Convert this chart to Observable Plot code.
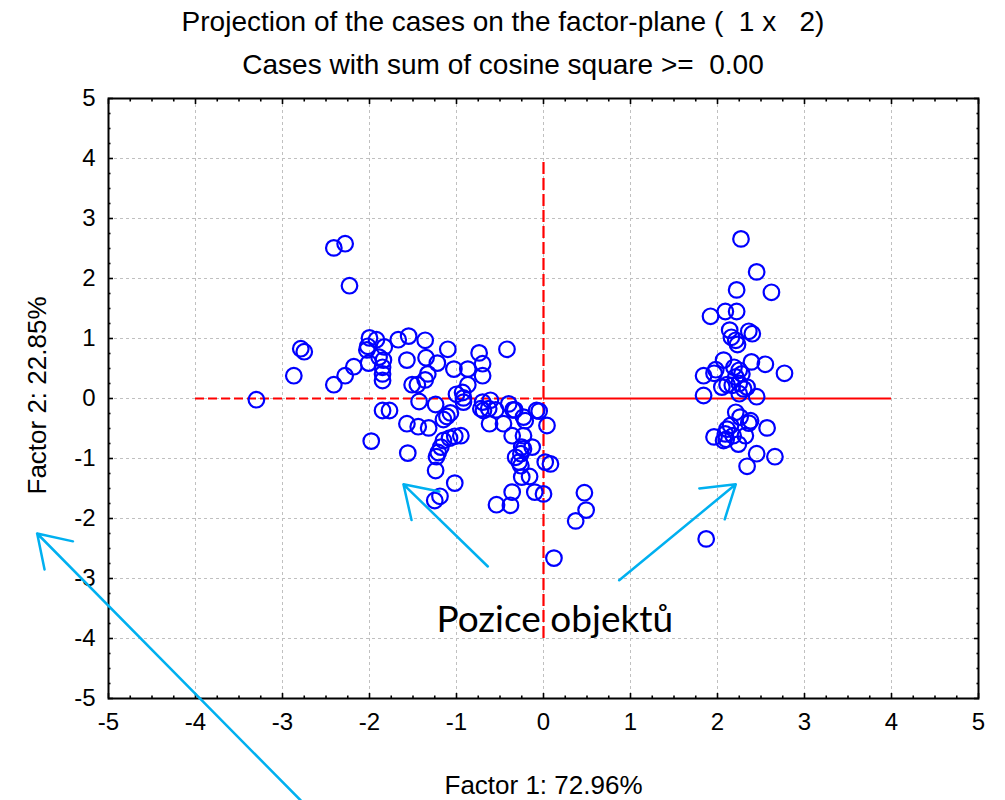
<!DOCTYPE html>
<html>
<head>
<meta charset="utf-8">
<script src="https://cdn.jsdelivr.net/npm/d3@7"></script>
<script src="https://cdn.jsdelivr.net/npm/@observablehq/plot@0.6"></script>
<style>
  html, body { margin: 0; padding: 0; background: #fff; }
  svg text { white-space: pre; }
</style>
</head>
<body>
<div id="chart"></div>
<script>
// ---- Data ----
const titleText = "Projection of the cases on the factor-plane (  1 x   2)";
const subtitleText = "Cases with sum of cosine square >=  0.00";
const xLabel = "Factor 1: 72.96%";
const yLabel = "Factor 2: 22.85%";
const annotationText = "Pozice objektů";

const xTicks = [-5, -4, -3, -2, -1, 0, 1, 2, 3, 4, 5];
const yTicks = [-5, -4, -3, -2, -1, 0, 1, 2, 3, 4, 5];
const gridTicks = [-4, -3, -2, -1, 0, 1, 2, 3, 4];

// Factor 1 / Factor 2 coordinates of the cases
const factor1 = [
  -3.30, -2.41, -2.28, -2.23, -2.79, -2.75, -2.87, -2.41, -2.28, -2.18,
  -2.00, -1.92, -2.02, -2.03, -1.83, -1.89, -1.84, -1.85, -1.85, -1.85,
  -2.01, -1.67, -1.55, -1.57, -1.36, -1.35, -1.51, -1.45, -1.43, -1.85,
  -1.77, -1.22, -1.10, -1.33, -1.36, -1.03, -0.87, -0.74, -0.70, -0.70,
  -0.42, -0.87, -1.00, -0.92, -0.92, -0.93, -1.24, -1.57, -1.44, -1.32,
  -1.15, -1.11, -1.07, -1.98, -1.56, -1.15, -1.08, -1.02, -0.95, -1.18,
  -1.21, -1.23, -1.24, -1.02, -1.19, -1.25, -0.70, -0.69, -0.63, -0.61,
  -0.55, -0.62, -0.46, -0.40, -0.35, -0.36, -0.23, -0.21, -0.08, 0.04,
  -0.23, -0.25, -0.13, -0.32, -0.28, 0.02, 0.08, -0.25, -0.16, -0.36,
  -0.10, 0.00, -0.54, -0.38, 0.47, 0.49, 0.37, 0.12, -0.05, -0.33,
  -0.26, -0.23, -0.26, -0.72,
  2.27, 2.45, 2.22, 2.62, 1.92, 2.09, 2.22, 2.14, 2.36, 2.40,
  2.16, 2.21, 2.23, 2.07, 2.39, 2.55, 2.77, 1.84, 1.96, 1.98,
  2.19, 2.25, 2.28, 2.21, 2.11, 2.17, 2.25, 2.34, 1.84, 2.05,
  2.30, 2.25, 2.45, 2.21, 2.26, 2.38, 2.36, 2.57, 2.15, 2.11,
  2.09, 2.07, 2.18, 2.24, 2.32, 1.96, 2.45, 2.66, 2.34, 1.87,
  2.10
];
const factor2 = [
  -0.02, 2.51, 2.58, 1.88, 0.83, 0.78, 0.38, 0.23, 0.38, 0.53,
  1.01, 0.98, 0.87, 0.81, 0.86, 0.69, 0.64, 0.52, 0.41, 0.30,
  0.59, 0.98, 1.04, 0.64, 0.97, 0.68, 0.23, 0.23, -0.05, -0.20,
  -0.20, 0.59, 0.82, 0.41, 0.31, 0.49, 0.49, 0.76, 0.58, 0.38,
  0.82, 0.23, 0.07, 0.01, -0.06, 0.10, -0.10, -0.42, -0.47, -0.49,
  -0.35, -0.30, -0.24, -0.71, -0.91, -0.70, -0.66, -0.63, -0.62, -0.81,
  -0.90, -0.97, -1.20, -1.41, -1.63, -1.70, -0.06, -0.20, -0.17, -0.03,
  -0.19, -0.42, -0.42, -0.09, -0.19, -0.62, -0.31, -0.37, -0.20, -0.45,
  -0.62, -0.81, -0.81, -0.98, -1.06, -1.06, -1.09, -1.31, -1.30, -1.56,
  -1.56, -1.59, -1.77, -1.78, -1.57, -1.86, -2.04, -2.66, -0.21, -0.19,
  -0.92, -0.84, -1.12, -0.17,
  2.66, 2.11, 1.81, 1.77, 1.37, 1.45, 1.45, 1.14, 1.12, 1.08,
  1.02, 0.97, 0.90, 0.64, 0.61, 0.57, 0.42, 0.38, 0.42, 0.48,
  0.52, 0.47, 0.41, 0.36, 0.23, 0.22, 0.25, 0.19, 0.05, 0.19,
  0.16, 0.08, 0.03, -0.23, -0.31, -0.37, -0.41, -0.49, -0.45, -0.51,
  -0.59, -0.70, -0.62, -0.76, -0.62, -0.64, -0.92, -0.97, -1.13, -2.34,
  -0.68
];

// Red reference lines (factor-plane axes)
const hDashed = {from: -4, to: 0, at: 0};
const hSolid = {from: 0, to: 4, at: 0};
const vDashed = {from: -4, to: 4, at: 0};

// Cyan annotation arrows (start -> head), in factor coordinates
const arrowX1 = [-0.64, 0.87, -2.79];
const arrowY1 = [-2.80, -3.03, -6.70];
const arrowX2 = [-1.61, 2.21, -5.82];
const arrowY2 = [-1.43, -1.43, -2.25];

// Annotation label position
const annotX = [0.13];
const annotY = [-3.70];

// ---- Build tables ----
const cases = factor1.map((f1, i) => ({f1, f2: factor2[i]}));
const arrows = arrowX1.map((x1, i) => ({x1, y1: arrowY1[i], x2: arrowX2[i], y2: arrowY2[i]}));
const annot = annotX.map((x, i) => ({x, y: annotY[i], t: annotationText}));
const minorX = d3.range(-5, 5.001, 0.25).filter(v => Math.abs(v - Math.round(v)) > 1e-9);
const minorY = minorX;

const font = "'Liberation Sans', Arial, sans-serif";
const noText = () => "";

const plot = Plot.plot({
  width: 1005,
  height: 800,
  marginTop: 98,
  marginLeft: 108,
  marginRight: 27,
  marginBottom: 102,
  style: {fontFamily: font, background: "#fff", color: "#000"},
  x: {domain: [-5, 5], label: null},
  y: {domain: [-5, 5], label: null},
  marks: [
    Plot.gridX(gridTicks, {stroke: "#c0c0c0", strokeOpacity: 1, strokeDasharray: "3,3", strokeWidth: 1}),
    Plot.gridY(gridTicks, {stroke: "#c0c0c0", strokeOpacity: 1, strokeDasharray: "3,3", strokeWidth: 1}),
    // reference lines
    Plot.ruleY([hDashed], {y: "at", x1: "from", x2: "to", stroke: "#ff0000", strokeWidth: 2.2, strokeDasharray: "9,4"}),
    Plot.ruleY([hSolid], {y: "at", x1: "from", x2: "to", stroke: "#ff0000", strokeWidth: 2.2}),
    Plot.ruleX([vDashed], {x: "at", y1: "from", y2: "to", stroke: "#ff0000", strokeWidth: 2.2, strokeDasharray: "12,4"}),
    // cases
    Plot.dot(cases, {x: "f1", y: "f2", r: 7.8, stroke: "#0000ff", strokeWidth: 2.2, fill: "none"}),
    // frame and inward ticks on all four sides
    Plot.frame({stroke: "#000", strokeWidth: 2}),
    Plot.axisX(xTicks, {anchor: "bottom", tickSize: -5, tickFormat: noText, label: null, strokeWidth: 1.6}),
    Plot.axisX(xTicks, {anchor: "top", tickSize: -5, tickFormat: noText, label: null, strokeWidth: 1.6}),
    Plot.axisX(minorX, {anchor: "bottom", tickSize: -2.5, tickFormat: noText, label: null, strokeWidth: 1.6}),
    Plot.axisX(minorX, {anchor: "top", tickSize: -2.5, tickFormat: noText, label: null, strokeWidth: 1.6}),
    Plot.axisY(yTicks, {anchor: "left", tickSize: -5, tickFormat: noText, label: null, strokeWidth: 1.6}),
    Plot.axisY(yTicks, {anchor: "right", tickSize: -5, tickFormat: noText, label: null, strokeWidth: 1.6}),
    Plot.axisY(minorY, {anchor: "left", tickSize: -2.5, tickFormat: noText, label: null, strokeWidth: 1.6}),
    Plot.axisY(minorY, {anchor: "right", tickSize: -2.5, tickFormat: noText, label: null, strokeWidth: 1.6}),
    // tick labels
    Plot.axisX(xTicks, {anchor: "bottom", tickSize: 0, tickPadding: 14, label: null, fontSize: 24, tickFormat: d => String(d)}),
    Plot.axisY(yTicks, {anchor: "left", tickSize: 0, tickPadding: 13, label: null, fontSize: 24, tickFormat: d => String(d)}),
    // axis titles
    Plot.text([xLabel], {frameAnchor: "bottom", dy: 87, fontSize: 26, lineAnchor: "middle", textAnchor: "middle", text: d => d}),
    Plot.text([yLabel], {frameAnchor: "left", dx: -71, dy: -3, rotate: -90, fontSize: 26, lineAnchor: "middle", textAnchor: "middle", text: d => d}),
    // chart titles
    Plot.text([titleText], {frameAnchor: "top-left", dx: 394.5, dy: -76, fontSize: 28, lineAnchor: "middle", textAnchor: "middle", text: d => d}),
    Plot.text([subtitleText], {frameAnchor: "top-left", dx: 394.5, dy: -33, fontSize: 28, lineAnchor: "middle", textAnchor: "middle", text: d => d}),
    // annotations
    Plot.arrow(arrows, {x1: "x1", y1: "y1", x2: "x2", y2: "y2", stroke: "#00b0f0", strokeWidth: 2.5, headLength: 22, headAngle: 66, bend: 0}),
    Plot.text(annot, {x: "x", y: "y", text: "t", fontSize: 37, fontFamily: "Lato, 'Open Sans', sans-serif", fill: "#000"})
  ]
});
document.getElementById("chart").appendChild(plot);
</script>
</body>
</html>
